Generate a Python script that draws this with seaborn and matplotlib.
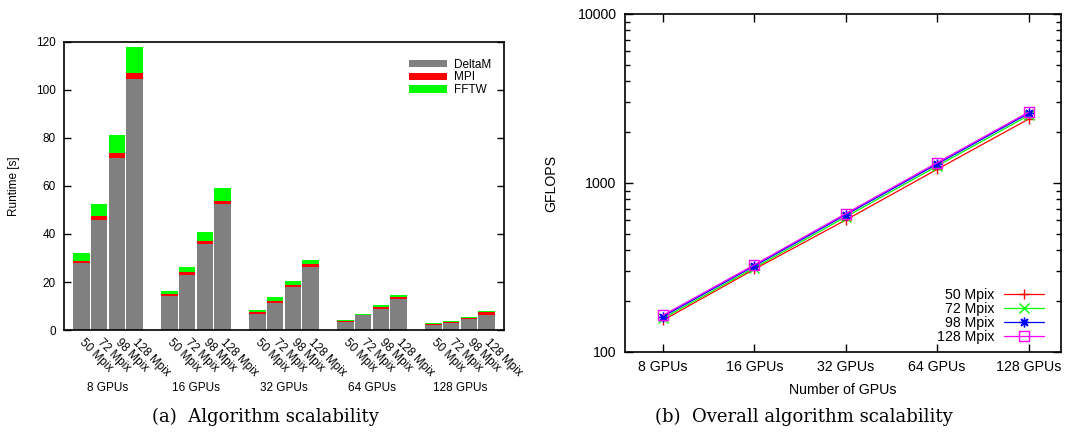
import numpy as np
import pandas as pd
import matplotlib
matplotlib.use('Agg')
import matplotlib.pyplot as plt
import seaborn as sns

# Data
gpus = ['8 GPUs', '16 GPUs', '32 GPUs', '64 GPUs', '128 GPUs']
sizes = ['50 Mpix', '72 Mpix', '98 Mpix', '128 Mpix']

# runtime components [s], one row per GPU count, one column per image size
deltam = [[28.0, 46.0, 71.8, 104.7],
          [14.0, 22.9, 36.0, 52.3],
          [6.8, 11.4, 18.1, 26.4],
          [3.5, 6.1, 8.8, 12.9],
          [1.9, 3.1, 4.6, 6.4]]
mpi = [[0.9, 1.7, 1.8, 2.5],
       [1.0, 1.4, 1.1, 1.5],
       [0.7, 0.8, 0.8, 0.9],
       [0.4, 0.3, 0.8, 0.9],
       [0.5, 0.4, 0.4, 1.2]]
fftw = [[3.2, 4.9, 7.8, 10.9],
        [1.3, 2.0, 3.8, 5.4],
        [1.0, 1.7, 1.5, 1.9],
        [0.4, 0.4, 0.8, 0.8],
        [0.4, 0.4, 0.4, 0.5]]

# overall GFLOPS per image size
gflops_50 = [154, 309, 604, 1205, 2388]
gflops_72 = [158, 315, 630, 1260, 2510]
gflops_98 = [162, 323, 648, 1295, 2580]
gflops_128 = [165, 328, 659, 1319, 2624]

sns.set_theme(style='ticks')
plt.rcParams['font.family'] = ['Liberation Sans', 'DejaVu Sans']
for k in ['text.color', 'axes.labelcolor', 'xtick.color', 'ytick.color',
          'axes.edgecolor']:
    plt.rcParams[k] = 'black'

fig = plt.figure(figsize=(10.79, 4.32), dpi=100)
ax1 = fig.add_axes([0.0593, 0.2361, 0.4078, 0.6667])
ax2 = fig.add_axes([0.5792, 0.1852, 0.4041, 0.7824])

# ---- (a) stacked runtime bars ----
rows = []
for g in range(len(gpus)):
    for b in range(len(sizes)):
        rows.append({'pos': g * 5 + b, 'size': sizes[b], 'gpu': gpus[g],
                     'deltam': deltam[g][b],
                     'mpi_top': deltam[g][b] + mpi[g][b],
                     'total': deltam[g][b] + mpi[g][b] + fftw[g][b]})
bars = pd.DataFrame(rows)

for col, color, lab in [('total', '#00ff00', 'FFTW'),
                        ('mpi_top', '#ff0000', 'MPI'),
                        ('deltam', '#808080', 'DeltaM')]:
    sns.barplot(data=bars, x='pos', y=col, native_scale=True, color=color,
                width=0.93, saturation=1, linewidth=0, ax=ax1, label=lab)

ax1.set_xlim(-1, 24)
ax1.set_ylim(0, 120)
ax1.set_yticks(range(0, 121, 20))
ax1.set_xticks(bars['pos'])
ax1.set_xticklabels(bars['size'], rotation=-45, rotation_mode='anchor',
                    ha='left', va='center')
ax1.tick_params(axis='x', length=0, pad=8, labelsize=8.5)
ax1.tick_params(axis='y', direction='in', length=5, width=1, labelsize=8.5,
                right=True, pad=6)
for s in ax1.spines.values():
    s.set_visible(True)
    s.set_linewidth(1.2)
ax1.set_xlabel('')
ax1.set_ylabel('Runtime [s]', fontsize=8.5)
ax1.yaxis.set_label_coords(-0.1, 0.5)
for g, name in enumerate(gpus):
    ax1.text(g * 5 + 1.5, -0.20, name, transform=ax1.get_xaxis_transform(),
             ha='center', va='center', fontsize=8.5)

h, l = ax1.get_legend_handles_labels()
order = [l.index('DeltaM'), l.index('MPI'), l.index('FFTW')]
ax1.legend([h[i] for i in order], [l[i] for i in order], loc='upper right',
           bbox_to_anchor=(0.985, 0.962), frameon=False, fontsize=8.5,
           handlelength=3.2, handleheight=0.6, labelspacing=0.05,
           handletextpad=0.6, borderpad=0)

# ---- (b) GFLOPS lines ----
series = [gflops_50, gflops_72, gflops_98, gflops_128]
colors = ['#ff0000', '#00ff00', '#0000ff', '#ff00ff']
markers = ['+', 'x', (8, 2, 0), 's']
for size, vals, c, m in zip(sizes, series, colors, markers):
    sns.lineplot(x=list(range(5)), y=vals, color=c, marker=m, linewidth=0.9,
                 markersize=7, markerfacecolor='none', markeredgecolor=c,
                 markeredgewidth=1.0, label=size, ax=ax2)

ax2.set_yscale('log')
ax2.set_ylim(100, 10000)
ax2.set_xlim(-0.416, 4.355)
ax2.set_xticks(range(5))
ax2.set_xticklabels(gpus)
ax2.set_yticks([100, 1000, 10000])
ax2.set_yticklabels(['100', '1000', '10000'])
ax2.tick_params(axis='both', which='major', direction='in', length=6,
                width=1, labelsize=10.2, right=True, top=True, pad=6)
ax2.tick_params(axis='y', which='minor', direction='in', length=3.5,
                width=1, right=True)
ax2.tick_params(axis='y', which='minor', labelleft=False)
for s in ax2.spines.values():
    s.set_visible(True)
    s.set_linewidth(1.2)
ax2.set_xlabel('Number of GPUs', fontsize=10.2)
ax2.xaxis.set_label_coords(0.5, -0.092)
ax2.set_ylabel('GFLOPS', fontsize=10.2)
ax2.yaxis.set_label_coords(-0.154, 0.5)

h2, l2 = ax2.get_legend_handles_labels()
leg = ax2.legend(h2, l2, loc='lower right', bbox_to_anchor=(0.977, 0.002),
                 frameon=False, fontsize=10.2, markerfirst=False,
                 handlelength=2.8, handletextpad=0.7, labelspacing=0.0,
                 borderpad=0)

# captions
fig.text(265 / 1079, 1 - 417 / 432, '(a)  Algorithm scalability',
         family='DejaVu Serif', fontsize=13, ha='center', va='center')
fig.text(804 / 1079, 1 - 417 / 432, '(b)  Overall algorithm scalability',
         family='DejaVu Serif', fontsize=13, ha='center', va='center')

fig.savefig('out.png', dpi=100)
plt.close(fig)
